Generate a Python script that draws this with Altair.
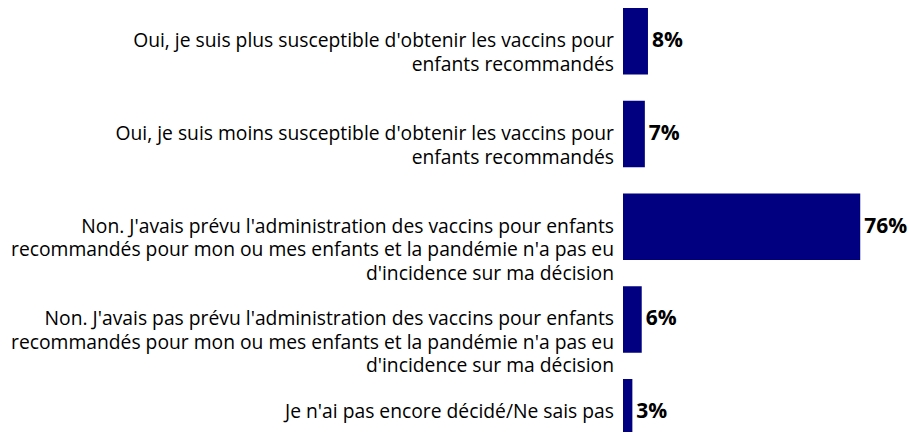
import altair as alt
import pandas as pd

categories = [
    "Oui, je suis plus susceptible d'obtenir les vaccins pour\nenfants recommandés",
    "Oui, je suis moins susceptible d'obtenir les vaccins pour\nenfants recommandés",
    "Non. J'avais prévu l'administration des vaccins pour enfants\nrecommandés pour mon ou mes enfants et la pandémie n'a pas eu\nd'incidence sur ma décision",
    "Non. J'avais pas prévu l'administration des vaccins pour enfants\nrecommandés pour mon ou mes enfants et la pandémie n'a pas eu\nd'incidence sur ma décision",
    "Je n'ai pas encore décidé/Ne sais pas",
]
values = [8, 7, 76, 6, 3]
value_labels = ["8%", "7%", "76%", "6%", "3%"]

df = pd.DataFrame({"cat": categories, "val": values, "lab": value_labels})

FONT = "Open Sans"

y = alt.Y("cat:N", sort=categories, axis=None,
          scale=alt.Scale(range=[0, 437.5], paddingInner=0.283, paddingOuter=0))
x = alt.X("val:Q", axis=None, scale=alt.Scale(domain=[0, 91.3]))

bars = alt.Chart(df).mark_bar(color="#000080").encode(x=x, y=y)

vals = alt.Chart(df).mark_text(align="left", baseline="middle", dx=4,
                               font=FONT, fontSize=21, fontWeight="bold",
                               color="#000000").encode(x=x, y=y, text="lab:N")

labels = alt.Chart(df).mark_text(align="right", baseline="middle", lineBreak="\n",
                                 font=FONT, fontSize=19.3, lineHeight=23.5,
                                 color="#000000").encode(
    x=alt.value(-9), y=y, text="cat:N")

chart = alt.layer(bars, vals, labels).properties(
    width=285, height=424,
    autosize=alt.AutoSizeParams(type="none"),
    padding={"left": 615, "top": 0, "right": 0, "bottom": 0},
).configure_view(stroke=None)

chart.save("out.html", embed_options={"renderer": "svg", "actions": False})
